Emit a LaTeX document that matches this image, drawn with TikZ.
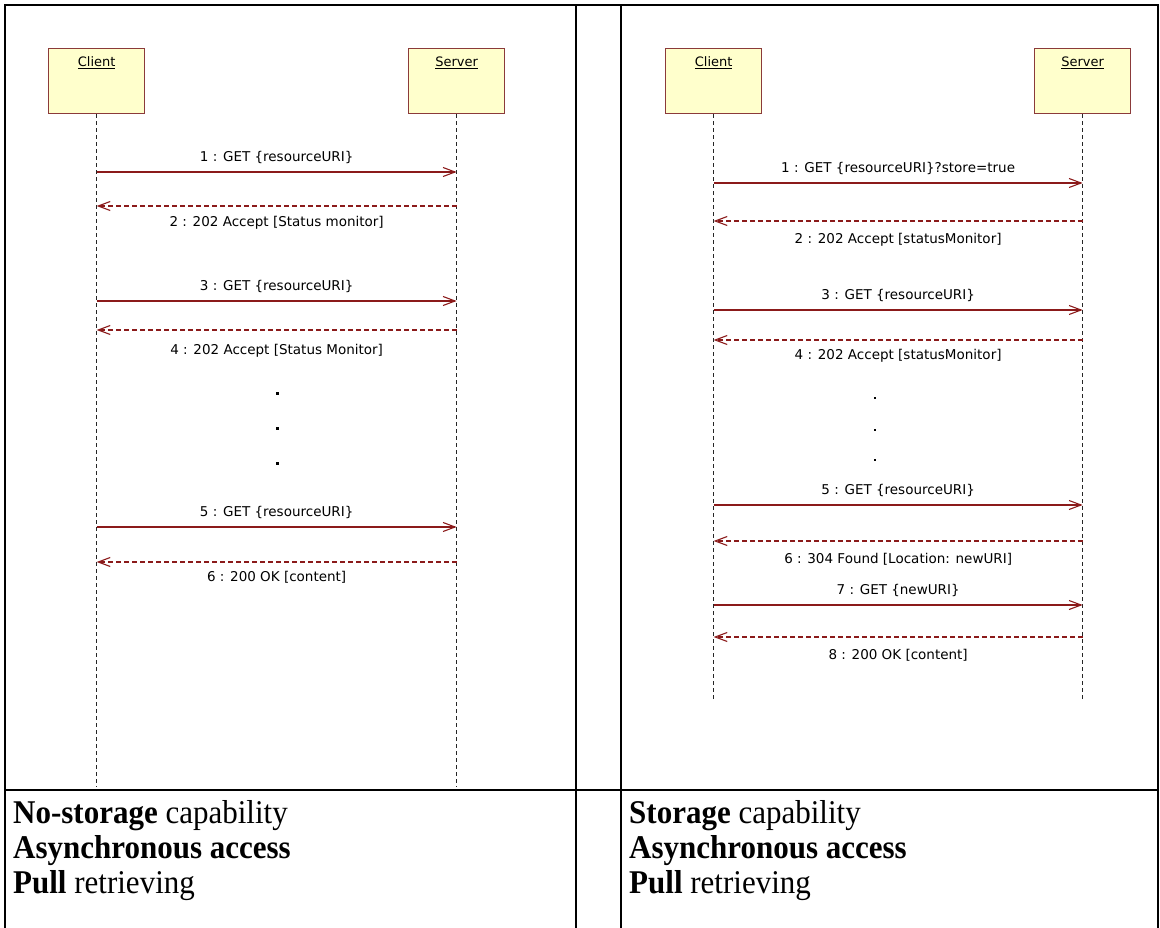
\documentclass[tikz,border=0pt]{standalone}
\usepackage{fontspec}
\setmainfont{Liberation Serif}
\newfontfamily\umlfont{DejaVu Sans}
\usetikzlibrary{arrows.meta}
\definecolor{msgred}{HTML}{8B1A1A}
\definecolor{boxfill}{HTML}{FFFFCC}
\definecolor{boxline}{HTML}{8B3A3A}
\newcommand{\captall}[1]{\scalebox{1}[1.07]{#1}}
\tikzset{
  frame/.style={line width=1.8pt, black},
  obj/.style={draw=boxline, fill=boxfill, line width=1.3pt, minimum width=96pt, minimum height=65pt, anchor=north west, inner sep=0pt},
  objlabel/.style={font=\umlfont\fontsize{13}{15}\selectfont, text=black},
  lifeline/.style={draw=black!85, dash pattern=on 4pt off 3pt, line width=0.9pt},
  callmsg/.style={draw=msgred, line width=1.2pt, -{Straight Barb[length=12pt,width=9pt,line width=1.1pt]}},
  retmsg/.style={draw=msgred, line width=1.2pt, dash pattern=on 5pt off 3pt, -{Straight Barb[length=12pt,width=9pt,line width=1.1pt]}},
  msglabel/.style={font=\umlfont\fontsize{13.5}{15}\selectfont, text=black, inner sep=0pt},
  dotmark/.style={fill=black, minimum size=3pt, inner sep=0pt},
  captxt/.style={font=\fontsize{31}{35}\selectfont, anchor=west, inner sep=0pt},
}
\begin{document}
\begin{tikzpicture}[x=1pt,y=-1pt]
\useasboundingbox (0,0) rectangle (1160,928);
% table frame
\draw[frame] (5,930) -- (5,5) -- (1158,5) -- (1158,930);
\draw[frame] (576,5) -- (576,930);
\draw[frame] (621,5) -- (621,930);
\draw[frame] (5,790) -- (1158,790);

% ---------------- left panel ----------------
\node[obj] (lc) at (48,48) {};
\node[objlabel, anchor=north] at ([yshift=-5pt]lc.north) {\underline{Client}};
\node[obj] (ls) at (408,48) {};
\node[objlabel, anchor=north] at ([yshift=-5pt]ls.north) {\underline{Server}};
\coordinate (lcend) at (lc.south |- 0,787);
\coordinate (lsend) at (ls.south |- 0,787);
\draw[lifeline] (lc.south) -- (lcend);
\draw[lifeline] (ls.south) -- (lsend);

\foreach \n/\y in {1/172,2/206,3/301,4/330,5/527,6/562}{
  \coordinate (lc\n) at (lc.south |- 0,\y);
  \coordinate (ls\n) at (ls.south |- 0,\y);
}
\draw[callmsg] (lc1) -- (ls1) node[msglabel, midway, above=8pt] {1 : GET \{resourceURI\}};
\draw[retmsg] (ls2) -- (lc2) node[msglabel, midway, below=10pt] {2 : 202 Accept [Status monitor]};
\draw[callmsg] (lc3) -- (ls3) node[msglabel, midway, above=8pt] {3 : GET \{resourceURI\}};
\draw[retmsg] (ls4) -- (lc4) node[msglabel, midway, below=14pt] {4 : 202 Accept [Status Monitor]};
\node[dotmark] (ld1) at (277,393) {};
\node[dotmark] (ld2) at (277,428) {};
\node[dotmark] (ld3) at (277,463) {};
\draw[callmsg] (lc5) -- (ls5) node[msglabel, midway, above=8pt] {5 : GET \{resourceURI\}};
\draw[retmsg] (ls6) -- (lc6) node[msglabel, midway, below=9pt] {6 : 200 OK [content]};

% ---------------- right panel ----------------
\node[obj] (rc) at (665,48) {};
\node[objlabel, anchor=north] at ([yshift=-5pt]rc.north) {\underline{Client}};
\node[obj] (rs) at (1034,48) {};
\node[objlabel, anchor=north] at ([yshift=-5pt]rs.north) {\underline{Server}};
\coordinate (rcend) at (rc.south |- 0,700);
\coordinate (rsend) at (rs.south |- 0,700);
\draw[lifeline] (rc.south) -- (rcend);
\draw[lifeline] (rs.south) -- (rsend);

\foreach \n/\y in {1/183,2/221,3/310,4/340,5/505,6/541,7/605,8/637}{
  \coordinate (rc\n) at (rc.south |- 0,\y);
  \coordinate (rs\n) at (rs.south |- 0,\y);
}
\draw[callmsg] (rc1) -- (rs1) node[msglabel, midway, above=8pt] {1 : GET \{resourceURI\}?store=true};
\draw[retmsg] (rs2) -- (rc2) node[msglabel, midway, below=12pt] {2 : 202 Accept [statusMonitor]};
\draw[callmsg] (rc3) -- (rs3) node[msglabel, midway, above=8pt] {3 : GET \{resourceURI\}};
\draw[retmsg] (rs4) -- (rc4) node[msglabel, midway, below=9pt] {4 : 202 Accept [statusMonitor]};
\node[dotmark, minimum size=1.8pt] (rd1) at (875,398) {};
\node[dotmark, minimum size=1.8pt] (rd2) at (875,430) {};
\node[dotmark, minimum size=1.8pt] (rd3) at (875,460) {};
\draw[callmsg] (rc5) -- (rs5) node[msglabel, midway, above=8pt] {5 : GET \{resourceURI\}};
\draw[retmsg] (rs6) -- (rc6) node[msglabel, midway, below=12pt] {6 : 304 Found [Location: newURI]};
\draw[callmsg] (rc7) -- (rs7) node[msglabel, midway, above=8pt] {7 : GET \{newURI\}};
\draw[retmsg] (rs8) -- (rc8) node[msglabel, midway, below=12pt] {8 : 200 OK [content]};

% ---------------- captions ----------------
\node[captxt] (lt1) at (13,816) {\captall{\textbf{No-storage} capability}};
\node[captxt] (lt2) at (13,851) {\captall{\textbf{Asynchronous access}}};
\node[captxt] (lt3) at (13,886) {\captall{\textbf{Pull} retrieving}};
\node[captxt] (rt1) at (629,816) {\captall{\textbf{Storage} capability}};
\node[captxt] (rt2) at (629,851) {\captall{\textbf{Asynchronous access}}};
\node[captxt] (rt3) at (629,886) {\captall{\textbf{Pull} retrieving}};
\end{tikzpicture}
\end{document}
